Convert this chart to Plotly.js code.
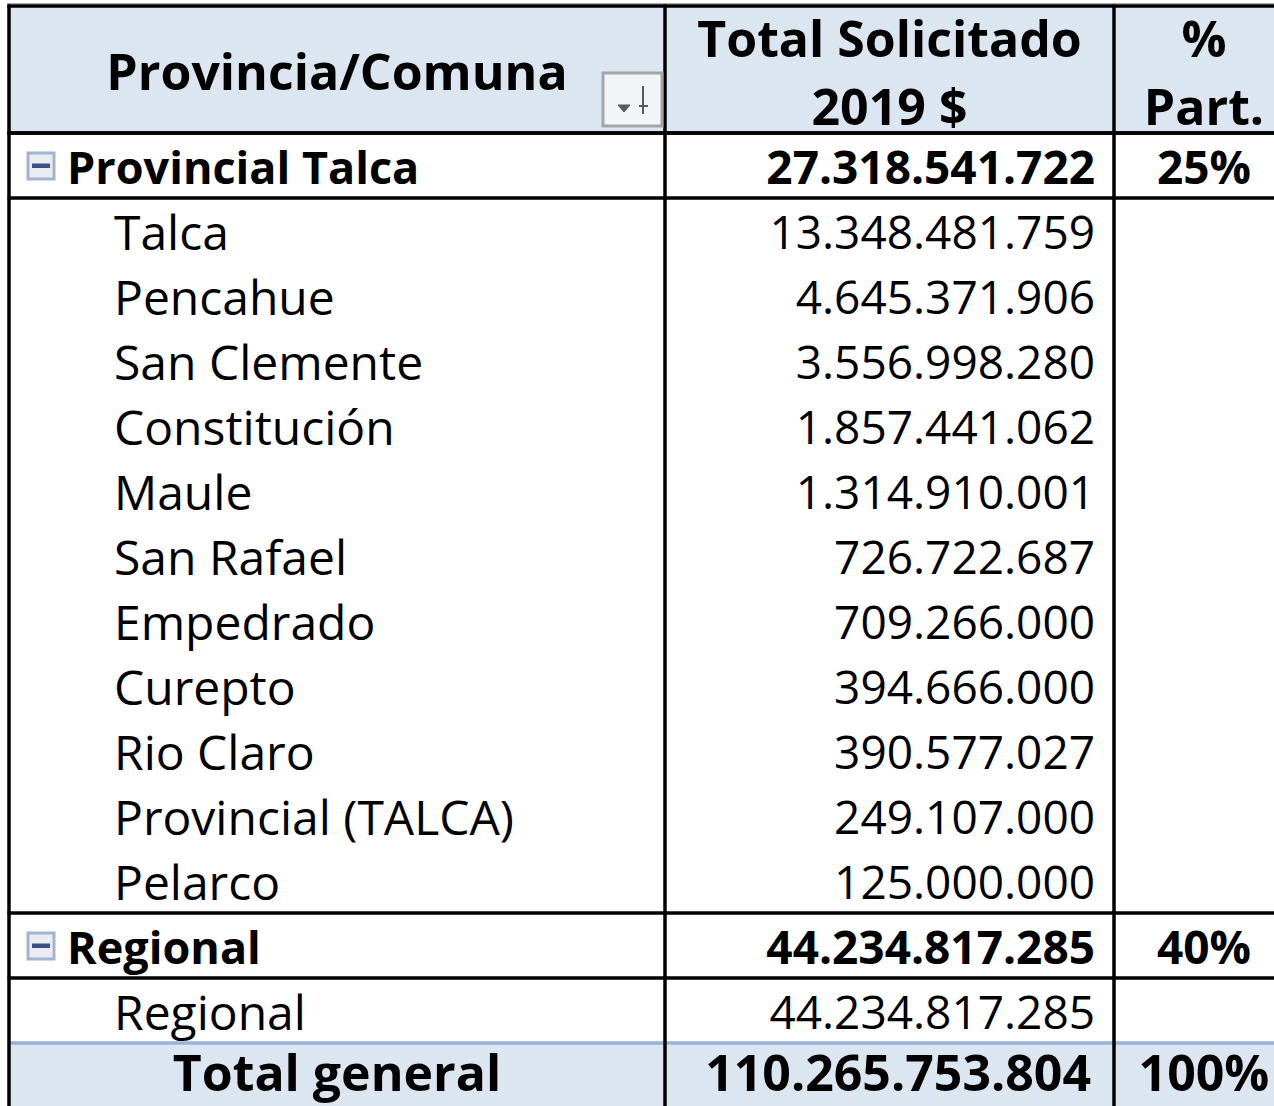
<!DOCTYPE html>
<html>
<head>
<meta charset="utf-8">
<script src="https://cdn.plot.ly/plotly-3.0.1.min.js"></script>
<style>html,body{margin:0;padding:0;background:#fff;}#chart{width:1274px;height:1106px;}</style>
</head>
<body>
<div id="chart"></div>
<script>
// ---------- DATA ----------
const headerLines = [["Provincia/Comuna"], ["Total Solicitado", "2019 $"], ["%", "Part."]];
const groupNames = ["Provincial Talca", "Regional"];
const groupTotals = [27318541722, 44234817285];
const groupPct = ["25%", "40%"];
const talcaComunas = ["Talca", "Pencahue", "San Clemente", "Constitución", "Maule", "San Rafael",
  "Empedrado", "Curepto", "Rio Claro", "Provincial (TALCA)", "Pelarco"];
const talcaValues = [13348481759, 4645371906, 3556998280, 1857441062, 1314910001, 726722687,
  709266000, 394666000, 390577027, 249107000, 125000000];
const regionalComunas = ["Regional"];
const regionalValues = [44234817285];
const totalLabel = "Total general";
const totalValue = 110265753804;
const totalPct = "100%";

// ---------- LAYOUT CONSTANTS ----------
const W = 1274, H = 1106;
const tableLeft = 9, tableTop = 6;
const colW = [656, 449, 180];
const headerH = 127, rowH = 65;
const FONT = "'Open Sans', 'Noto Sans', sans-serif";
const FS_LABEL = 48, FS_NUM = 46, FS_GROUP = 45, FS_HEAD = 50, FS_TOTAL = 50;
const TXT_DY = 7;
const BLACK = "#000000", HEAD_FILL = "#dce6f1", TOTAL_LINE = "#95b3d7";

const colX = [tableLeft];
colW.forEach(w => colX.push(colX[colX.length - 1] + w));

function fmt(n) { return String(n).replace(/\B(?=(\d{3})+(?!\d))/g, "."); }

// build rows
const rows = [];
const details = [talcaComunas.map((c, i) => [c, talcaValues[i]]), regionalComunas.map((c, i) => [c, regionalValues[i]])];
groupNames.forEach((g, gi) => {
  rows.push({ type: "group", label: g, value: groupTotals[gi], pct: groupPct[gi] });
  details[gi].forEach(d => rows.push({ type: "detail", label: d[0], value: d[1], pct: "" }));
});
rows.push({ type: "total", label: totalLabel, value: totalValue, pct: totalPct });

const rowTop = i => tableTop + headerH + i * rowH;
const rowMid = i => rowTop(i) + rowH / 2;

// ---------- TEXT ITEMS ----------
const items = []; // {x,y,text,pos,bold,size}
const headerMid = tableTop + headerH / 2;
const lineGap = 68;
headerLines.forEach((lines, c) => {
  const cx = (colX[c] + colX[c + 1]) / 2;
  lines.forEach((t, k) => {
    const y = lines.length === 1 ? headerMid + 8 : headerMid + 9 + (k - (lines.length - 1) / 2) * lineGap;
    items.push({ x: cx, y: y, text: t, pos: "middle center", bold: true, size: FS_HEAD });
  });
});
const valueRight = colX[2] - 19;
const pctMid = (colX[2] + colX[3]) / 2;
rows.forEach((r, i) => {
  const y = rowMid(i) + TXT_DY;
  if (r.type === "group") {
    items.push({ x: tableLeft + 58, y: y, text: r.label, pos: "middle right", bold: true, size: FS_GROUP });
    items.push({ x: valueRight, y: y, text: fmt(r.value), pos: "middle left", bold: true, size: FS_NUM });
    items.push({ x: pctMid, y: y, text: r.pct, pos: "middle center", bold: true, size: FS_NUM });
  } else if (r.type === "detail") {
    items.push({ x: tableLeft + 105, y: y, text: r.label, pos: "middle right", bold: false, size: FS_LABEL });
    items.push({ x: valueRight, y: y, text: fmt(r.value), pos: "middle left", bold: false, size: FS_NUM });
  } else {
    const yt = y - 4;
    items.push({ x: (colX[0] + colX[1]) / 2, y: yt, text: r.label, pos: "middle center", bold: true, size: FS_TOTAL });
    items.push({ x: valueRight - 4, y: yt, text: fmt(r.value), pos: "middle left", bold: true, size: FS_TOTAL });
    items.push({ x: pctMid, y: yt, text: r.pct, pos: "middle center", bold: true, size: FS_TOTAL });
  }
});

function textTrace(bold) {
  const sel = items.filter(d => d.bold === bold);
  return {
    type: "scatter", mode: "text", hoverinfo: "skip", showlegend: false,
    x: sel.map(d => d.x), y: sel.map(d => d.y), text: sel.map(d => d.text),
    textposition: sel.map(d => d.pos),
    textfont: { family: FONT, size: sel.map(d => d.size), color: "#000", weight: bold ? 700 : 400 },
    cliponaxis: false
  };
}

// ---------- SHAPES ----------
const shapes = [];
const right = colX[3];
shapes.push({ type: "rect", layer: "below", xref: "x", yref: "y", x0: tableLeft, x1: right, y0: tableTop, y1: tableTop + headerH, fillcolor: HEAD_FILL, line: { width: 0 } });
const totIdx = rows.length - 1;
shapes.push({ type: "rect", layer: "below", xref: "x", yref: "y", x0: tableLeft, x1: right, y0: rowTop(totIdx), y1: rowTop(totIdx) + rowH, fillcolor: HEAD_FILL, line: { width: 0 } });
shapes.push({ type: "line", xref: "x", yref: "y", x0: tableLeft - 2, x1: right, y0: tableTop - 2.5, y1: tableTop - 2.5, line: { color: "#a6a6a6", width: 1 } });
function hline(y, color, w) { shapes.push({ type: "line", xref: "x", yref: "y", x0: tableLeft - 1.5, x1: right, y0: y, y1: y, line: { color: color, width: w } }); }
hline(tableTop, BLACK, 3.5);
hline(tableTop + headerH, BLACK, 3.5);
rows.forEach((r, i) => {
  if (r.type === "group") { hline(rowTop(i), BLACK, 3.5); hline(rowTop(i) + rowH, BLACK, 3.5); }
  if (r.type === "total") { hline(rowTop(i), TOTAL_LINE, 3.5); }
});
[colX[0], colX[1], colX[2]].forEach(x => {
  shapes.push({ type: "line", xref: "x", yref: "y", x0: x, x1: x, y0: tableTop - 1.5, y1: H + 5, line: { color: BLACK, width: 3.5 } });
});
rows.forEach((r, i) => {
  if (r.type !== "group") return;
  const cy = rowMid(i) + 0.5, cx = tableLeft + 32;
  shapes.push({ type: "rect", xref: "x", yref: "y", x0: cx - 13, x1: cx + 13, y0: cy - 13, y1: cy + 13, fillcolor: "#e9ecf1", line: { color: "#a3b3d0", width: 3 } });
  shapes.push({ type: "rect", xref: "x", yref: "y", x0: cx - 9, x1: cx + 9, y0: cy - 2.5, y1: cy + 2, fillcolor: "#3b4e86", line: { width: 0 } });
});
const bx0 = colX[1] - 62, bx1 = colX[1] - 3, by0 = tableTop + 67, by1 = tableTop + headerH - 7;
shapes.push({ type: "rect", xref: "x", yref: "y", x0: bx0, x1: bx1, y0: by0, y1: by1, fillcolor: "#f3f4f8", line: { color: "#a2a6ab", width: 3 } });
shapes.push({ type: "path", xref: "x", yref: "y", path: `M ${bx0 + 15} ${by0 + 32} L ${bx0 + 27} ${by0 + 32} L ${bx0 + 21} ${by0 + 39} Z`, fillcolor: "#555a60", line: { color: "#555a60", width: 1 } });
shapes.push({ type: "line", xref: "x", yref: "y", x0: bx0 + 40, x1: bx0 + 40, y0: by0 + 13, y1: by0 + 41, line: { color: "#555a60", width: 2 } });
shapes.push({ type: "line", xref: "x", yref: "y", x0: bx0 + 36, x1: bx0 + 45, y0: by0 + 33, y1: by0 + 33, line: { color: "#555a60", width: 2 } });

const layout = {
  width: W, height: H,
  margin: { l: 0, r: 0, t: 0, b: 0, pad: 0 },
  paper_bgcolor: "#ffffff", plot_bgcolor: "#ffffff",
  xaxis: { range: [0, W], visible: false, fixedrange: true },
  yaxis: { range: [H, 0], visible: false, fixedrange: true },
  shapes: shapes, showlegend: false
};
Plotly.newPlot("chart", [textTrace(false), textTrace(true)], layout, { staticPlot: true, displayModeBar: false });
</script>
</body>
</html>
